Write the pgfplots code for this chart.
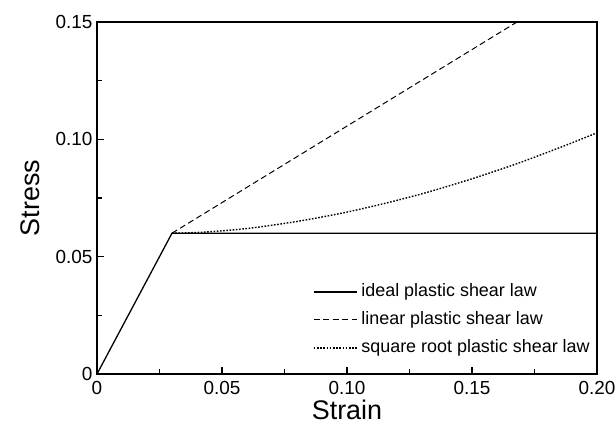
\documentclass[border=0pt]{standalone}
\usepackage{pgfplots}
\pgfplotsset{compat=1.18}
\usepackage{fontspec}
\setmainfont{Liberation Sans}

\begin{document}
\begin{tikzpicture}
\begin{axis}[
  name=ax,
  scale only axis,
  width=500bp, height=352bp,
  xmin=0, xmax=0.20, ymin=0, ymax=0.15,
  xtick={0,0.05,0.10,0.15,0.20},
  xticklabels={0,0.05,0.10,0.15,0.20},
  ytick={0,0.05,0.10,0.15},
  yticklabels={0,0.05,0.10,0.15},
  minor x tick num=1, minor y tick num=1,
  tick align=inside,
  xtick pos=left, ytick pos=left,
  major tick length=7bp, minor tick length=5bp,
  every tick/.style={black, line width=1.1pt},
  axis line style={line width=1.2pt},
  tick label style={font=\fontsize{19}{21}\selectfont},
  xticklabel style={yshift=-4bp},
  yticklabel style={xshift=-1bp},
  xlabel={Strain}, ylabel={Stress},
  label style={font=\fontsize{27}{30}\selectfont},
  xlabel style={at={(axis description cs:0.5,-0.102)}, anchor=center},
  ylabel style={at={(axis description cs:-0.134,0.5)}, anchor=center},
  legend style={draw=none, fill=none, at={(0.432,0.258)}, anchor=north west,
    inner sep=0pt, outer sep=0pt,
    font=\fontsize{18}{21}\selectfont, row sep=10.5bp, column sep=4bp,
    nodes={inner sep=0pt, text height=13bp, text depth=4.5bp}},
  legend cell align=left,
  legend image code/.code={\draw[#1] (0bp,0bp) -- (43bp,0bp);},
  clip=true,
]
\addplot[black, line width=1.3pt] coordinates {(0,0) (0.03,0.06) (0.20,0.06)};
\addlegendentry{ideal plastic shear law}
\addplot[black, line width=1pt, dash pattern=on 6bp off 3.5bp] coordinates {(0.03,0.06) (0.168,0.15)};
\addlegendentry{linear plastic shear law}
\addplot[black, line width=1.4pt, dash pattern=on 1.6bp off 1.6bp, smooth] table {
x y
0.030 0.0600
0.040 0.0603
0.050 0.0610
0.060 0.0620
0.070 0.0634
0.080 0.0650
0.090 0.0669
0.100 0.0690
0.110 0.0714
0.120 0.0740
0.130 0.0768
0.140 0.0799
0.150 0.0832
0.160 0.0867
0.170 0.0904
0.180 0.0944
0.190 0.0985
0.200 0.1028
};
\addlegendentry{square root plastic shear law}
\end{axis}
\pgfresetboundingbox
\useasboundingbox ([shift={(-97bp,-52bp)}]ax.south west) rectangle ([shift={(18bp,22bp)}]ax.north east);
\end{tikzpicture}
\end{document}
